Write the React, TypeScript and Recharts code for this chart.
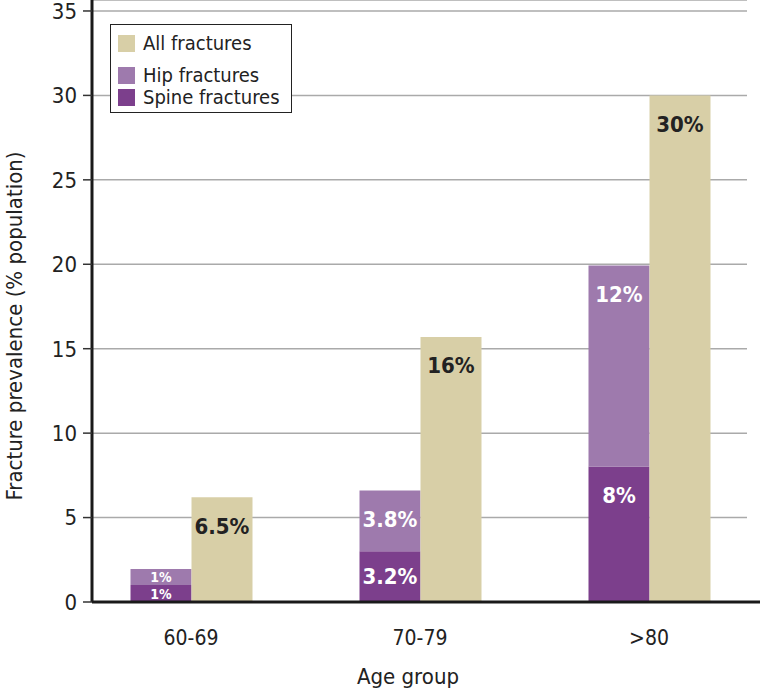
import { Bar, BarChart, CartesianGrid, LabelList, XAxis, YAxis } from "recharts";

const AGE_GROUPS = ["60-69", "70-79", ">80"];
const SPINE = [1.0, 3.0, 8.03];
const HIP = [0.95, 3.6, 11.9];
const ALL = [6.2, 15.7, 30.0];
const SPINE_LABELS = ["1%", "3.2%", "8%"];
const HIP_LABELS = ["1%", "3.8%", "12%"];
const ALL_LABELS = ["6.5%", "16%", "30%"];
const Y_TICKS = [0, 5, 10, 15, 20, 25, 30, 35];

const FONT = "'Liberation Sans Narrow', 'DejaVu Sans Condensed', 'Roboto Condensed', Arial, sans-serif";
const COLOR = { all: "#d8cfa7", hip: "#9e7aad", spine: "#7c3f8c" };

const data = AGE_GROUPS.map((g, i) => ({
  group: g,
  spine: SPINE[i],
  hip: HIP[i],
  all: ALL[i],
  spineLabel: SPINE_LABELS[i],
  hipLabel: HIP_LABELS[i],
  allLabel: ALL_LABELS[i],
}));

function inBarLabel(fill: string, weight: number) {
  return (p: any) => {
    const { x, y, width, height, value, index } = p;
    const small = height < 30;
    const cy = y + (small ? height / 2 : Math.min(29, height / 2));
    return (
      <text
        key={index}
        x={x + width / 2}
        y={cy}
        textAnchor="middle"
        dominantBaseline="central"
        fill={fill}
        fontFamily={FONT}
        fontWeight={weight}
        fontSize={small ? 14 : 22}
      >
        {value}
      </text>
    );
  };
}

const LEGEND = [
  { name: "All fractures", color: COLOR.all, top: 18 },
  { name: "Hip fractures", color: COLOR.hip, top: 50 },
  { name: "Spine fractures", color: COLOR.spine, top: 72 },
];

function LegendBox() {
  return (
    <div
      style={{
        position: "absolute",
        left: 110,
        top: 24,
        width: 182,
        height: 89,
        boxSizing: "border-box",
        border: "1.5px solid #222",
        background: "#fff",
        fontFamily: FONT,
        fontSize: 20,
        color: "#222",
      }}
    >
      {LEGEND.map((l) => (
        <div
          key={l.name}
          style={{ position: "absolute", left: 7, top: l.top - 11, height: 22, display: "flex", alignItems: "center", whiteSpace: "nowrap" }}
        >
          <span style={{ width: 17, height: 17, background: l.color, display: "inline-block", marginRight: 8 }} />
          {l.name}
        </div>
      ))}
    </div>
  );
}

function GridLine(p: any) {
  if (p.y1 > 600) return <g key={p.key} />;
  return <line key={p.key} x1={p.x1} x2={p.x2 - 13} y1={p.y1} y2={p.y2} stroke="#aaaaaa" strokeWidth={1.5} />;
}

export default function App() {
  return (
    <div style={{ position: "absolute", left: 0, top: 0, width: 760, height: 690, background: "#fff" }}>
      <BarChart
        width={760}
        height={690}
        data={data}
        margin={{ top: 0, right: 0, bottom: 0, left: 0 }}
        barSize={61}
        barGap={0}
      >
        <CartesianGrid vertical={false} horizontal={GridLine} />
        <XAxis
          dataKey="group"
          height={88}
          padding={{ left: -15.5, right: -3.5 }}
          axisLine={{ stroke: "#1a1a1a", strokeWidth: 3 }}
          tickLine={false}
          tickMargin={22}
          tick={{ fill: "#222", fontSize: 21, fontFamily: FONT }}
          label={{
            content: () => (
              <text x={408} y={684} textAnchor="middle" fill="#222" fontSize={22} fontFamily={FONT}>
                Age group
              </text>
            ),
          }}
        />
        <YAxis
          width={92}
          domain={[0, 35.65]}
          ticks={Y_TICKS}
          interval={0}
          allowDataOverflow
          axisLine={{ stroke: "#1a1a1a", strokeWidth: 3 }}
          tickSize={9}
          tickMargin={6}
          tickLine={{ stroke: "#333", strokeWidth: 1.5 }}
          tick={{ fill: "#222", fontSize: 22, fontFamily: FONT }}
          label={{
            content: () => (
              <text
                x={22}
                y={326}
                transform="rotate(-90 22 326)"
                textAnchor="middle"
                fill="#222"
                fontSize={22}
                fontFamily={FONT}
              >
                Fracture prevalence (% population)
              </text>
            ),
          }}
        />
        <Bar dataKey="spine" stackId="a" fill={COLOR.spine} isAnimationActive={false}>
          <LabelList dataKey="spineLabel" content={inBarLabel("#fff", 600)} />
        </Bar>
        <Bar dataKey="hip" stackId="a" fill={COLOR.hip} isAnimationActive={false}>
          <LabelList dataKey="hipLabel" content={inBarLabel("#fff", 600)} />
        </Bar>
        <Bar dataKey="all" fill={COLOR.all} isAnimationActive={false}>
          <LabelList dataKey="allLabel" content={inBarLabel("#222", 700)} />
        </Bar>
      </BarChart>
      <LegendBox />
    </div>
  );
}
